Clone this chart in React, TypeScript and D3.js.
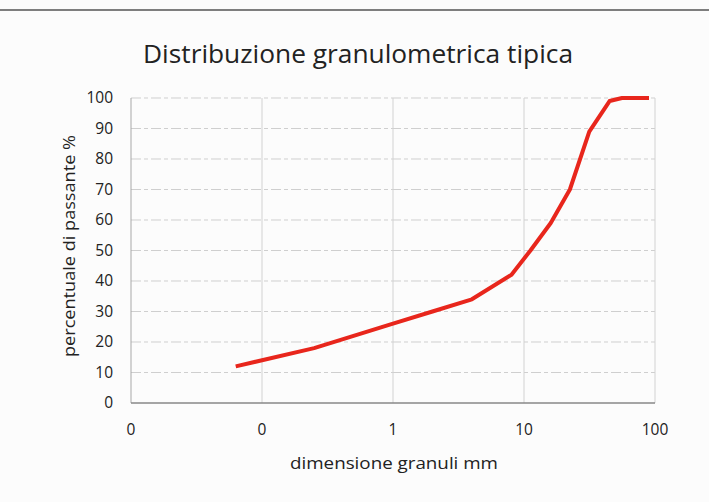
import React, { useEffect, useRef } from 'react';
import * as d3 from 'd3';

// grain size (mm) and percent passing
const sizes = [0.063, 0.25, 1, 2, 4, 8, 11.2, 16, 22.4, 31.5, 45, 56, 90];
const passing = [12, 18, 26, 30, 34, 42, 50, 59, 70, 89, 99, 100, 100];
const xTicks = [0.01, 0.1, 1, 10, 100];
const yTicks = [0, 10, 20, 30, 40, 50, 60, 70, 80, 90, 100];

const App: React.FC = () => {
  const ref = useRef<SVGSVGElement | null>(null);

  useEffect(() => {
    if (!ref.current) return;
    const width = 709;
    const height = 502;
    const margin = { top: 98, right: 54, bottom: 99, left: 131 };
    const font = '"Open Sans", Lato, sans-serif';

    const svg = d3.select(ref.current).attr('width', width).attr('height', height);
    svg.selectAll('*').remove();

    svg.append('rect').attr('width', width).attr('height', height).attr('fill', '#fcfcfc');
    // scan border line at the top
    svg.append('line')
      .attr('x1', 0).attr('x2', width).attr('y1', 10).attr('y2', 10)
      .attr('stroke', '#555').attr('stroke-width', 1.5);

    const x = d3.scaleLog().domain([0.01, 100]).range([margin.left, width - margin.right]);
    const y = d3.scaleLinear().domain([0, 100]).range([height - margin.bottom, margin.top]);

    // horizontal grid
    svg.append('g')
      .selectAll('line')
      .data(yTicks.slice(1))
      .enter()
      .append('line')
      .attr('x1', x(0.01)).attr('x2', x(100))
      .attr('y1', d => y(d)).attr('y2', d => y(d))
      .attr('stroke', '#cfcfcf')
      .attr('stroke-dasharray', '10 3 4 3');

    // vertical grid
    svg.append('g')
      .selectAll('line')
      .data(xTicks.slice(1))
      .enter()
      .append('line')
      .attr('x1', d => x(d)).attr('x2', d => x(d))
      .attr('y1', y(0)).attr('y2', y(100))
      .attr('stroke', '#d2d2d2');

    // axes lines
    svg.append('line')
      .attr('x1', x(0.01)).attr('x2', x(0.01)).attr('y1', y(0)).attr('y2', y(100))
      .attr('stroke', '#a8a8a8');
    svg.append('line')
      .attr('x1', x(0.01)).attr('x2', x(100)).attr('y1', y(0)).attr('y2', y(0))
      .attr('stroke', '#888').attr('stroke-width', 1.3);

    // y tick labels
    svg.append('g')
      .selectAll('text')
      .data(yTicks)
      .enter()
      .append('text')
      .attr('x', 113)
      .attr('y', d => y(d))
      .attr('dy', '0.35em')
      .attr('text-anchor', 'end')
      .attr('font-family', font)
      .attr('font-size', 15.5)
      .attr('fill', '#222')
      .text(d => d);

    // x tick labels
    const fmt = d3.format('.0f');
    svg.append('g')
      .selectAll('text')
      .data(xTicks)
      .enter()
      .append('text')
      .attr('x', d => x(d))
      .attr('y', 435)
      .attr('text-anchor', 'middle')
      .attr('font-family', font)
      .attr('font-size', 15.5)
      .attr('fill', '#222')
      .text(d => fmt(d));

    // curve
    const line = d3.line<number>()
      .x((d, i) => x(sizes[i]))
      .y(d => y(d));
    svg.append('path')
      .datum(passing)
      .attr('d', line)
      .attr('fill', 'none')
      .attr('stroke', '#e8261c')
      .attr('stroke-width', 4)
      .attr('stroke-linejoin', 'round');

    // titles
    svg.append('text')
      .attr('x', 143)
      .attr('y', 63)
      .attr('font-family', font)
      .attr('font-size', 25)
      .attr('textLength', 430)
      .attr('lengthAdjust', 'spacingAndGlyphs')
      .attr('fill', '#222')
      .text('Distribuzione granulometrica tipica');

    svg.append('text')
      .attr('x', 290)
      .attr('y', 469)
      .attr('font-family', font)
      .attr('font-size', 17)
      .attr('textLength', 208)
      .attr('lengthAdjust', 'spacingAndGlyphs')
      .attr('fill', '#222')
      .text('dimensione granuli mm');

    svg.append('text')
      .attr('transform', 'translate(75, 357) rotate(-90)')
      .attr('font-family', font)
      .attr('font-size', 17)
      .attr('textLength', 222)
      .attr('lengthAdjust', 'spacingAndGlyphs')
      .attr('fill', '#222')
      .text('percentuale di passante %');
  }, []);

  return (
    <svg ref={ref} style={{ position: 'absolute', top: 0, left: 0, display: 'block' }}></svg>
  );
};

export default App;
